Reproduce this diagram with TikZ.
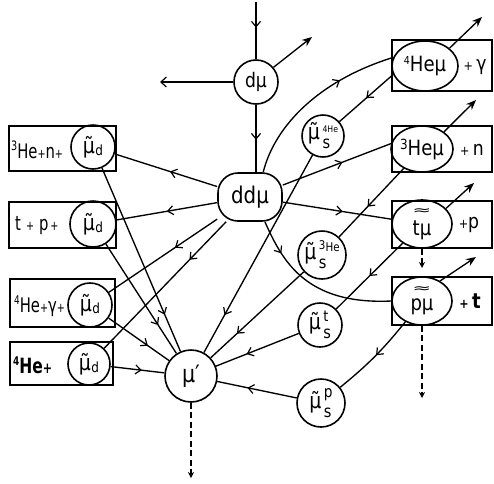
\documentclass[tikz,border=0pt]{standalone}
\usepackage{fontspec}
\setmainfont{DejaVu Sans}
\newfontfamily\hand[FakeStretch=0.86]{DejaVu Sans}
\newfontfamily\handN[FakeStretch=0.74]{DejaVu Sans}
\usetikzlibrary{arrows.meta,decorations.markings,shapes.geometric,calc}

% small plus sign used between particle names
\newcommand\plusS{{\fontsize{13}{13}\selectfont +}}
% muon with tilde and subscript d
\newcommand\mud{μ̃\kern0.5pt\raisebox{-2pt}{\fontsize{14}{14}\selectfont d}}
% muon with tilde, superscript #1 (size #2) and subscript s
\newcommand\smu[2]{μ̃\kern2.5pt\raisebox{-9pt}{\shortstack[l]{\fontsize{#2}{#2}\selectfont #1\\[4pt]\fontsize{17}{17}\selectfont s}}}
% wavy double bar over a bound state
\newcommand\wavy[1]{\shortstack{\fontsize{12}{12}\selectfont\scalebox{2.2}[1]{≈}\\[3pt]#1}}

\tikzset{
  wire/.style={line width=1.35pt, draw=black},
  flow/.style={wire, postaction={decorate},
    decoration={markings, mark=at position #1 with {\arrow{Straight Barb[length=5.5pt,width=9pt,line width=1.2pt]}}}},
  flow/.default=0.5,
  escape/.style={wire, -{Stealth[length=10pt,width=8pt]}},
  decay/.style={wire, dash pattern=on 6pt off 3.5pt, -{Stealth[length=6pt,width=6pt]}},
  state/.style={circle, draw, line width=1.6pt, inner sep=0pt, font=\hand\fontsize{22}{22}\selectfont},
  pair/.style={ellipse, draw, line width=1.6pt, inner sep=0pt, font=\hand\fontsize{21}{21}\selectfont},
  frame/.style={draw, line width=1.6pt, inner sep=0pt},
  lbl/.style={inner sep=0pt, font=\hand\fontsize{20}{20}\selectfont},
  boxlbl/.style={inner sep=0pt, anchor=west, font=\handN\fontsize{20}{20}\selectfont},
}

\begin{document}
\begin{tikzpicture}[x=1pt,y=-1pt]
\useasboundingbox (0,0) rectangle (494,483);

% ---- molecules in the centre
\node[state, minimum size=44pt, font=\hand\fontsize{20}{20}\selectfont] (dmu) at (256,82) {dμ};
\node[draw, line width=1.6pt, rounded corners=20pt, minimum width=64pt, minimum height=48pt,
      inner sep=0pt, font=\hand\fontsize{23}{23}\selectfont] (ddmu) at (250,197) {ddμ};
\node[state, minimum size=52pt, font=\hand\fontsize{24}{24}\selectfont] (mup) at (191,376) {μ′};

% ---- sticking states
\node[state, minimum size=42pt] (s4) at (323,136) {\smu{4He}{9}};
\node[state, minimum size=48pt] (s3) at (322,255) {\smu{\raisebox{2pt}{3}He}{12}};
\node[state, minimum size=44pt] (st) at (320,325) {\smu{t}{15}};
\node[state, minimum size=48pt] (sp) at (321,403) {\smu{p}{16}};

% ---- right column: bound muonic states
\node[frame, minimum width=100pt, minimum height=51pt] (bx1) at (442,65.5) {};
\node[pair, minimum width=66pt, minimum height=50pt] (he4mu) at (425,66)
  {\raisebox{7pt}{\fontsize{11}{11}\selectfont 4}Heμ};
\node[lbl] (g1) at (475,67) {\plusS\,γ};

\node[frame, minimum width=100pt, minimum height=46pt] (bx2) at (442,149) {};
\node[pair, minimum width=60pt, minimum height=46pt] (he3mu) at (422,149)
  {\raisebox{6pt}{\fontsize{14}{14}\selectfont 3}Heμ};
\node[lbl] (g2) at (472,150) {\plusS\,n};

\node[frame, minimum width=100pt, minimum height=47pt] (bx3) at (442,224.5) {};
\node[pair, minimum width=60pt, minimum height=48pt] (tmu) at (422,224) {\wavy{tμ}};
\node[lbl] (g3) at (469,225) {\plusS p};

\node[frame, minimum width=100pt, minimum height=48pt] (bx4) at (442,301) {};
\node[pair, minimum width=60pt, minimum height=48pt] (pmu) at (422,301) {\wavy{pμ}};
\node[lbl, font=\hand\bfseries\fontsize{21}{21}\selectfont] (g4) at (470,301) {\plusS\,t};

% ---- left column: free muon after fusion
\node[frame, minimum width=107pt, minimum height=45pt] (lb1) at (62.5,148.5) {};
\node[boxlbl] (lt1) at (11,150) {\raisebox{8pt}{\fontsize{13}{13}\selectfont 3}He\plusS n\plusS};
\node[state, minimum size=44pt] (l1c) at (93,147) {\mud};

\node[frame, minimum width=107pt, minimum height=46pt] (lb2) at (62.5,225) {};
\node[boxlbl] (lt2) at (15,226) {t\hspace{5pt}\plusS\hspace{5pt}p\hspace{2pt}\plusS};
\node[state, minimum size=46pt] (l2c) at (93,224) {\mud};

\node[frame, minimum width=105pt, minimum height=48pt] (lb3) at (62.5,303) {};
\node[boxlbl] (lt3) at (14,306) {\raisebox{8pt}{\fontsize{12}{12}\selectfont 4}He\plusS γ\plusS};
\node[state, minimum size=44pt] (l3c) at (90,305) {\mud};

\node[frame, minimum width=103pt, minimum height=43pt] (lb4) at (61.5,363.5) {};
\node[boxlbl, font=\handN\bfseries\fontsize{21}{21}\selectfont] (lt4) at (13,365)
  {\raisebox{8pt}{\fontsize{12}{12}\selectfont 4}He{\fontsize{15}{15}\selectfont +}};
\node[state, minimum size=42pt] (l4c) at (89,364) {\mud};

% ---- free ends
\coordinate (in)   at (256,2);
\coordinate (dmuL) at (160,82);
\coordinate (dmuR) at (312,37);
\coordinate (e1) at (482,17);
\coordinate (e2) at (476,100);
\coordinate (e3) at (474,183);
\coordinate (e4) at (476,257);
\coordinate (d1) at (422,268);
\coordinate (d2) at (422,398);
\coordinate (d3) at (191,478);

% ---- formation of the molecule
\draw[flow=0.45] (in) -- (dmu.north);
\draw[wire, -{Straight Barb[length=5.5pt,width=10pt,line width=1.2pt]}] (dmu.west) -- (dmuL);
\draw[escape] (dmu.40) -- (dmuR);
\draw[flow=0.52] (dmu.south) -- (dmu.south |- ddmu.north);

% ---- fusion channels with free muon
\draw[flow=0.46] (ddmu) -- (l1c);
\draw[flow=0.5]  (ddmu) -- (l2c);
\draw[flow=0.39] (ddmu) -- (l3c);
\draw[flow=0.3]  (ddmu) -- (l4c);
\draw[flow=0.8]  (l1c) -- (mup);
\draw[flow=0.74] (l2c) -- (mup);
\draw[flow=0.65] (l3c) -- (mup);
\draw[flow=0.58] (l4c) -- (mup);

% ---- channels with bound muon
\draw[flow=0.68] (ddmu.62) .. controls (275,125) and (320,80) .. (he4mu.165);
\draw[flow=0.5]  (he4mu.195) -- (s4);
\draw[flow=0.81] (s4) -- (mup);
\draw[flow=0.55] (ddmu.20) -- (he3mu.170);
\draw[flow=0.56] (he3mu) -- (s3);
\draw[flow=0.72] (s3) -- (mup);
\draw[flow=0.55] (ddmu) -- (tmu);
\draw[flow=0.5]  (tmu) -- (st);
\draw[flow=0.63] (st) -- (mup);
\draw[flow=0.22] (ddmu.-59) .. controls (282,260) and (305,305) .. (pmu.west);
\draw[flow=0.48] (pmu) to[bend left=6] (sp);
\draw[flow=0.62] (sp) -- (mup);

% ---- escaping products
\draw[escape] (he4mu.36) -- (e1);
\draw[escape] (he3mu.38) -- (e2);
\draw[escape] (tmu.33) -- (e3);
\draw[escape] (pmu.48) -- (e4);

% ---- decays
\draw[decay] (tmu.south) -- (d1);
\draw[decay] (pmu.south) -- (d2);
\draw[decay] (mup.south) -- (d3);
\end{tikzpicture}
\end{document}
